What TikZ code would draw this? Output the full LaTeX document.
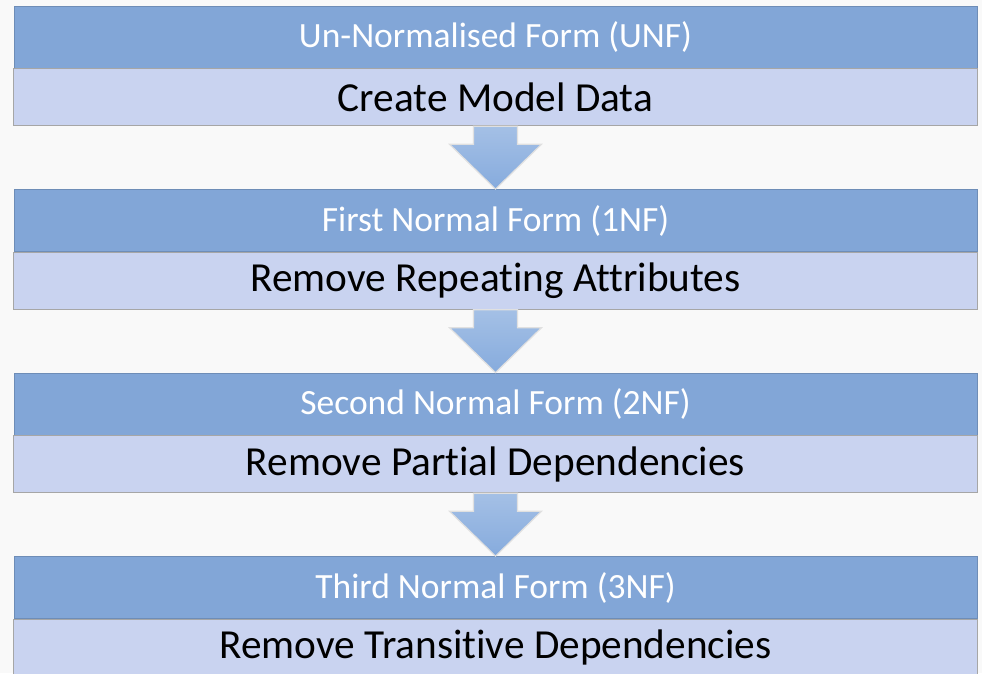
\documentclass[tikz,border=0pt]{standalone}
\usepackage{fontspec}
\setmainfont{Carlito}[Ligatures=CommonOff]
\usetikzlibrary{positioning,calc}
\definecolor{hdrblue}{HTML}{82A6D7}
\definecolor{bodyblue}{HTML}{C9D3F0}
\definecolor{arrblue}{HTML}{86ABDD}
\definecolor{bggrey}{HTML}{F9F9F9}
\tikzset{
  hdr/.style={rectangle, fill=hdrblue, draw=hdrblue!85!black, line width=0.8pt,
    minimum width=963pt, minimum height=62pt, inner sep=0pt,
    text=white, font=\fontsize{35.5}{40}\selectfont},
  body/.style={rectangle, fill=bodyblue, draw=black!35, line width=0.8pt,
    minimum width=964pt, minimum height=57pt, inner sep=0pt,
    text=black, font=\fontsize{41.3}{46}\selectfont},
  downarr/.style={top color=arrblue!75!white, bottom color=arrblue, draw=black!12, line width=1.2pt}
}
\begin{document}
\begin{tikzpicture}[x=1pt,y=-1pt]
\useasboundingbox (0,0) rectangle (982,673);
\fill[bggrey] (0,0) rectangle (982,673);
\node[hdr] (hdr1) at (495.5,37){Un-Normalised Form (UNF)};
\node[body, below=0pt of hdr1] (body1){Create Model Data};
\node[hdr] (hdr2) at (495.5,220.5){First Normal Form (1NF)};
\node[body, below=0pt of hdr2] (body2){Remove Repeating Attributes};
\node[hdr] (hdr3) at (495.5,404){Second Normal Form (2NF)};
\node[body, below=0pt of hdr3] (body3){Remove Partial Dependencies};
\node[hdr] (hdr4) at (495.5,587.5){Third Normal Form (3NF)};
\node[body, below=0pt of hdr4] (body4){Remove Transitive Dependencies};
% block arrows between the steps
\draw[downarr] ($(body1.south)+(-22,0)$) -- ($(body1.south)+(22,0)$) -- ($(body1.south)+(22,18)$)
  -- ($(body1.south)+(46,18)$) -- (hdr2.north) -- ($(body1.south)+(-46,18)$)
  -- ($(body1.south)+(-22,18)$) -- cycle;
\draw[downarr] ($(body2.south)+(-22,0)$) -- ($(body2.south)+(22,0)$) -- ($(body2.south)+(22,18)$)
  -- ($(body2.south)+(46,18)$) -- (hdr3.north) -- ($(body2.south)+(-46,18)$)
  -- ($(body2.south)+(-22,18)$) -- cycle;
\draw[downarr] ($(body3.south)+(-22,0)$) -- ($(body3.south)+(22,0)$) -- ($(body3.south)+(22,18)$)
  -- ($(body3.south)+(46,18)$) -- (hdr4.north) -- ($(body3.south)+(-46,18)$)
  -- ($(body3.south)+(-22,18)$) -- cycle;
\end{tikzpicture}
\end{document}
